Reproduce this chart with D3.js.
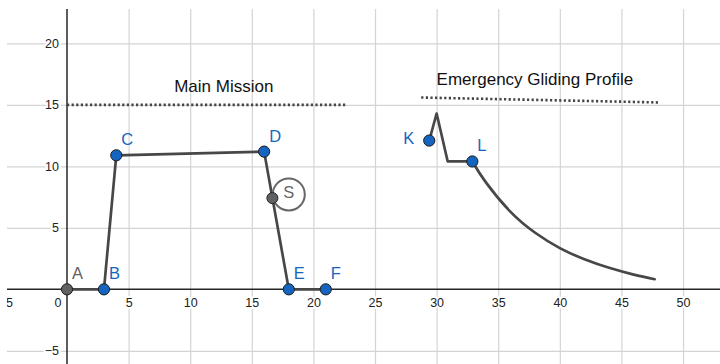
<!DOCTYPE html>
<html>
<head>
<meta charset="utf-8">
<script src="https://cdn.jsdelivr.net/npm/d3@7"></script>
<style>
  body { margin: 0; background: #fff; }
  svg { display: block; font-family: "Liberation Sans", Arial, sans-serif; }
  .grid line { stroke: #d4d4d4; stroke-width: 1.2; }
  .grid .domain { display: none; }
  .lbl text { font-size: 12.5px; fill: #222; stroke: #fff; stroke-width: 4px; paint-order: stroke; stroke-linejoin: round; }
  .lbl .domain, .lbl line { display: none; }
</style>
</head>
<body>
<svg width="720" height="364"></svg>
<script>
// mission profile points A..F
const missionNames = ['A', 'B', 'C', 'D', 'E', 'F'];
const missionX = [0, 3, 4, 16, 18, 21];
const missionY = [0, 0, 10.9, 11.2, 0, 0];

// emergency gliding profile: climb / drop segment, then decay
const glideX = [29.4, 30.0, 30.9, 32.9];
const glideY = [12.1, 14.3, 10.4, 10.4];
const decayX = [32.9, 34, 36, 38, 40, 42, 44, 46, 47.7];
const decayY = [10.4, 8.7, 6.3, 4.6, 3.35, 2.45, 1.75, 1.2, 0.82];

// named glide points
const glideNames = ['K', 'L'];
const glidePtX = [29.4, 32.9];
const glidePtY = [12.1, 10.4];

// point S on DE and its circle
const sPoint = [16.67, 7.42];
const sCircle = [18.0, 7.72, 1.3];

// dotted ceiling lines
const ceilMainX = [0, 22.6], ceilMainY = [15, 15];
const ceilGlideX = [28.75, 48], ceilGlideY = [15.6, 15.2];

const xTicks = [-5, 0, 5, 10, 15, 20, 25, 30, 35, 40, 45, 50];
const yTicks = [-5, 0, 5, 10, 15, 20];

const svg = d3.select('svg');
const width = +svg.attr('width');
const height = +svg.attr('height');

const x = d3.scaleLinear().domain([-5, 53]).range([5.4, 720]);
const y = d3.scaleLinear().domain([-6, 22.8]).range([363.1, 9]);

svg.append('clipPath').attr('id', 'clip')
  .append('rect').attr('x', 7).attr('y', 0).attr('width', width - 7).attr('height', height);

const g = svg.append('g').attr('clip-path', 'url(#clip)');

// grid
g.append('g').attr('class', 'grid')
  .attr('transform', `translate(0,${height})`)
  .call(d3.axisBottom(x).tickValues(xTicks.filter(d => d !== 0)).tickSize(-(height - 9)).tickFormat(''));

g.append('g').attr('class', 'grid')
  .attr('transform', `translate(${width},0)`)
  .call(d3.axisLeft(y).tickValues(yTicks.filter(d => d !== 0)).tickSize(width - 7).tickFormat(''));

// axes lines
g.append('line')
  .attr('x1', 7).attr('x2', width)
  .attr('y1', y(0)).attr('y2', y(0))
  .attr('stroke', '#262626').attr('stroke-width', 1.5);
g.append('line')
  .attr('x1', x(0)).attr('x2', x(0))
  .attr('y1', 9).attr('y2', height)
  .attr('stroke', '#262626').attr('stroke-width', 1.5);

// tick labels
const fmt = d => d < 0 ? '\u2212' + Math.abs(d) : String(d);
const xLab = g.append('g').attr('class', 'lbl')
  .attr('transform', `translate(0,${y(0)})`)
  .call(d3.axisBottom(x).tickValues(xTicks).tickSize(0).tickPadding(8.3).tickFormat(fmt));
xLab.selectAll('.tick').filter(d => d === 0).select('text')
  .attr('text-anchor', 'end').attr('x', -6);

g.append('g').attr('class', 'lbl')
  .attr('transform', `translate(${x(0)},0)`)
  .call(d3.axisLeft(y).tickValues(yTicks.filter(d => d !== 0)).tickSize(0).tickPadding(8).tickFormat(fmt));

// dotted ceilings
const dotted = (xs, ys) => g.append('line')
  .attr('x1', x(xs[0])).attr('x2', x(xs[1]))
  .attr('y1', y(ys[0])).attr('y2', y(ys[1]))
  .attr('stroke', '#444').attr('stroke-width', 2.6)
  .attr('stroke-dasharray', '2.2 2.4');
dotted(ceilMainX, ceilMainY);
dotted(ceilGlideX, ceilGlideY);

// titles
g.append('text').attr('x', x(8.7)).attr('y', y(16.07))
  .attr('font-size', 17).attr('fill', '#111').text('Main Mission');
g.append('text').attr('x', x(30.0)).attr('y', y(16.6))
  .attr('font-size', 17).attr('fill', '#111').text('Emergency Gliding Profile');

// paths
const lineStyle = sel => sel.attr('fill', 'none').attr('stroke', '#474747')
  .attr('stroke-width', 2.7).attr('stroke-linejoin', 'round').attr('stroke-linecap', 'round');

const lin = d3.line().x(d => x(d[0])).y(d => y(d[1]));
const smooth = d3.line().x(d => x(d[0])).y(d => y(d[1])).curve(d3.curveNatural);

g.append('path').datum(missionX.map((v, i) => [v, missionY[i]])).attr('d', lin).call(lineStyle);
g.append('path').datum(glideX.map((v, i) => [v, glideY[i]])).attr('d', lin).call(lineStyle);
g.append('path').datum(decayX.map((v, i) => [v, decayY[i]])).attr('d', smooth).call(lineStyle);

// S circle
g.append('circle')
  .attr('cx', x(sCircle[0])).attr('cy', y(sCircle[1]))
  .attr('r', x(sCircle[0] + sCircle[2]) - x(sCircle[0]))
  .attr('fill', 'none').attr('stroke', '#666').attr('stroke-width', 2);
g.append('text').attr('x', x(sCircle[0])).attr('y', y(sCircle[1]) + 4)
  .attr('text-anchor', 'middle').attr('font-size', 16.5).attr('fill', '#666').text('S');

// points
const blue = '#1565c0';
const grey = '#616161';
const pts = missionNames.map((n, i) => ({ name: n, x: missionX[i], y: missionY[i] }))
  .concat(glideNames.map((n, i) => ({ name: n, x: glidePtX[i], y: glidePtY[i] })));

const labelOffset = { K: [-15, 3, 'end'] };

g.append('circle')
  .attr('cx', x(sPoint[0])).attr('cy', y(sPoint[1])).attr('r', 5.5)
  .attr('fill', grey).attr('stroke', '#222').attr('stroke-width', 1);

g.selectAll('circle.pt').data(pts).enter()
  .append('circle').attr('class', 'pt')
  .attr('cx', d => x(d.x)).attr('cy', d => y(d.y)).attr('r', 5.6)
  .attr('fill', d => d.name === 'A' ? grey : blue)
  .attr('stroke', '#1a1a1a').attr('stroke-width', 1);

g.selectAll('text.pl').data(pts).enter()
  .append('text').attr('class', 'pl')
  .attr('x', d => x(d.x) + (labelOffset[d.name] ? labelOffset[d.name][0] : 5))
  .attr('y', d => y(d.y) + (labelOffset[d.name] ? labelOffset[d.name][1] : -10))
  .attr('text-anchor', d => labelOffset[d.name] ? labelOffset[d.name][2] : 'start')
  .attr('font-size', 16.5)
  .attr('fill', d => d.name === 'A' ? grey : blue)
  .text(d => d.name);
</script>
</body>
</html>
